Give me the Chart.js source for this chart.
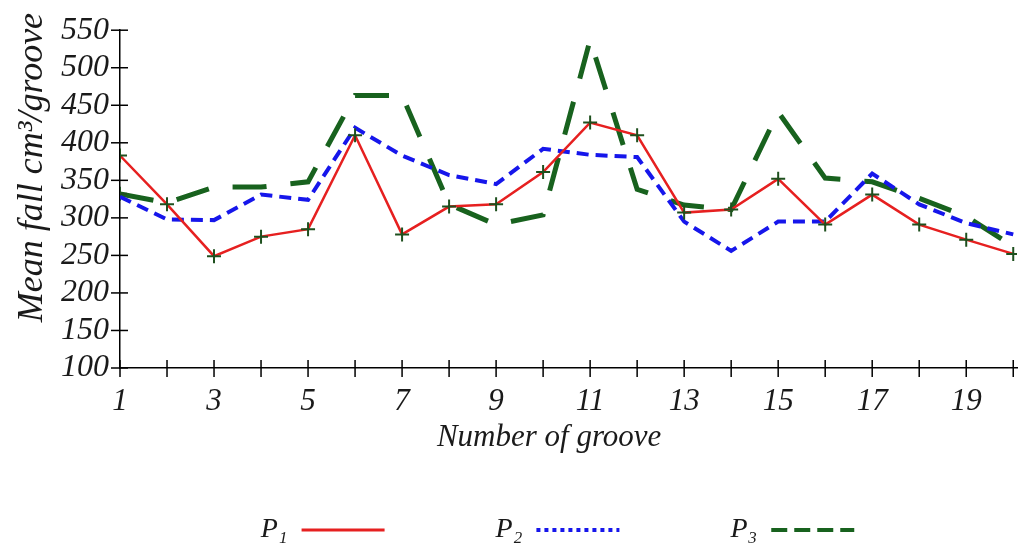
<!DOCTYPE html>
<html><head><meta charset="utf-8">
<script src="https://cdn.jsdelivr.net/npm/chart.js@4/dist/chart.umd.min.js"></script>
<style>html,body{margin:0;padding:0;background:#fff}canvas{display:block}</style>
</head><body>
<canvas id="c" width="1019" height="554"></canvas>
<script>
// ---- data ----
const grooves = [1,2,3,4,5,6,7,8,9,10,11,12,13,14,15,16,17,18,19,20];
const xTickLabels = [1,3,5,7,9,11,13,15,17,19];
const yTickValues = [100,150,200,250,300,350,400,450,500,550];
const seriesNames = ['P\u2081','P\u2082','P\u2083'];
const p1 = [383,318,249,275,285,410,278,315,318,361,427,410,307,311,352,291,331,291,271,252];
const p2 = [328,298,297,331,324,420,383,357,345,392,384,381,295,256,295,295,359,318,293,278];
const p3 = [332,320,341,341,348,463,463,318,291,304,537,338,317,311,441,353,348,326,302,262];

// ---- styles ----
const RED = 'rgb(230,32,32)', BLUE = 'rgb(22,22,235)', GREEN = 'rgb(24,98,30)', MARK = 'rgb(30,80,30)';
const FONT = 'Liberation Serif';
const TXT = '#1a1a1a';
const legendPads = [14, 15, 15];
const legendDash = [[], [4,4], [16,7]];
const legendWidth = [3, 4, 4];
const legendColor = [RED, BLUE, GREEN];
const p3MarkRadius = grooves.map((g,i) => i === 0 ? 7 : 0);

const pts = arr => grooves.map((g,i) => ({x:g, y:arr[i]}));

const crossTicks = {
  id: 'crossTicks',
  beforeDatasetsDraw(chart) {
    const ctx = chart.ctx, xs = chart.scales.x, ys = chart.scales.y;
    ctx.save();
    ctx.strokeStyle = '#000';
    ctx.lineWidth = 1.5;
    xs.ticks.forEach(t => {
      const px = xs.getPixelForValue(t.value);
      ctx.beginPath(); ctx.moveTo(px, xs.top - 8); ctx.lineTo(px, xs.top + 9); ctx.stroke();
    });
    ys.ticks.forEach(t => {
      const py = ys.getPixelForValue(t.value);
      ctx.beginPath(); ctx.moveTo(ys.right - 9, py); ctx.lineTo(ys.right + 8, py); ctx.stroke();
    });
    ctx.restore();
  }
};

new Chart(document.getElementById('c'), {
  type: 'line',
  data: {
    datasets: [
      {label: seriesNames[0], data: pts(p1), borderColor: RED, backgroundColor: RED, borderWidth: 2.5,
       pointStyle: 'cross', pointRadius: 7, pointBorderColor: MARK, pointBackgroundColor: MARK, pointBorderWidth: 2, tension: 0},
      {label: seriesNames[1], data: pts(p2), borderColor: BLUE, backgroundColor: BLUE, borderWidth: 4,
       borderDash: [12,7], pointRadius: 0, tension: 0},
      {label: seriesNames[2], data: pts(p3), borderColor: GREEN, backgroundColor: GREEN, borderWidth: 5,
       borderDash: [34,24], pointStyle: 'cross', pointRadius: p3MarkRadius, pointBorderColor: MARK, pointBorderWidth: 2, tension: 0}
    ]
  },
  options: {
    responsive: false,
    devicePixelRatio: 1,
    animation: false,
    layout: {autoPadding: false, padding: {top: 27, right: 2, bottom: 0, left: 0}},
    plugins: {
      tooltip: {enabled: false},
      legend: {
        position: 'bottom',
        rtl: true,
        reverse: true,
        labels: {
          usePointStyle: true,
          pointStyle: 'line',
          pointStyleWidth: 83,
          padding: 6,
          color: TXT,
          font: {family: FONT, style: 'italic', size: 28},
          generateLabels(chart) {
            const items = Chart.defaults.plugins.legend.labels.generateLabels(chart);
            items.forEach(it => {
              const i = it.datasetIndex;
              it.text = ' '.repeat(legendPads[i]) + seriesNames[i];
              it.lineDash = legendDash[i];
              it.lineWidth = legendWidth[i];
              it.strokeStyle = legendColor[i];
              it.pointStyle = 'line';
            });
            return items;
          }
        }
      }
    },
    scales: {
      x: {
        type: 'linear', min: 1, max: 20.08, bounds: 'data', position: 'bottom',
        grid: {display: false, drawTicks: false},
        border: {display: true, color: '#000', width: 1.5},
        ticks: {stepSize: 1, autoSkip: false, maxRotation: 0, includeBounds: false, padding: 15, color: TXT,
                font: {family: FONT, style: 'italic', size: 31},
                callback: v => xTickLabels.includes(v) ? String(v) : ''},
        title: {display: true, text: 'Number of groove     ', color: TXT,
                font: {family: FONT, style: 'italic', size: 31}, padding: {top: 0, bottom: 54}},
        afterFit(s) { s.height = 142; s.paddingRight = 0; s.paddingLeft = 0; }
      },
      y: {
        min: 100, max: 550,
        grid: {display: false, drawTicks: false},
        border: {display: true, color: '#000', width: 1.5},
        afterBuildTicks(s) { s.ticks = yTickValues.map(v => ({value: v})); },
        ticks: {autoSkip: false, padding: 11, color: TXT, font: {family: FONT, style: 'italic', size: 32}},
        title: {display: true, text: '       Mean fall cm\u00b3/groove', color: TXT,
                font: {family: FONT, style: 'italic', size: 36}, padding: {top: 11, bottom: 0}},
        afterFit(s) { s.width = 120; }
      }
    }
  },
  plugins: [crossTicks]
});
</script>
</body></html>
